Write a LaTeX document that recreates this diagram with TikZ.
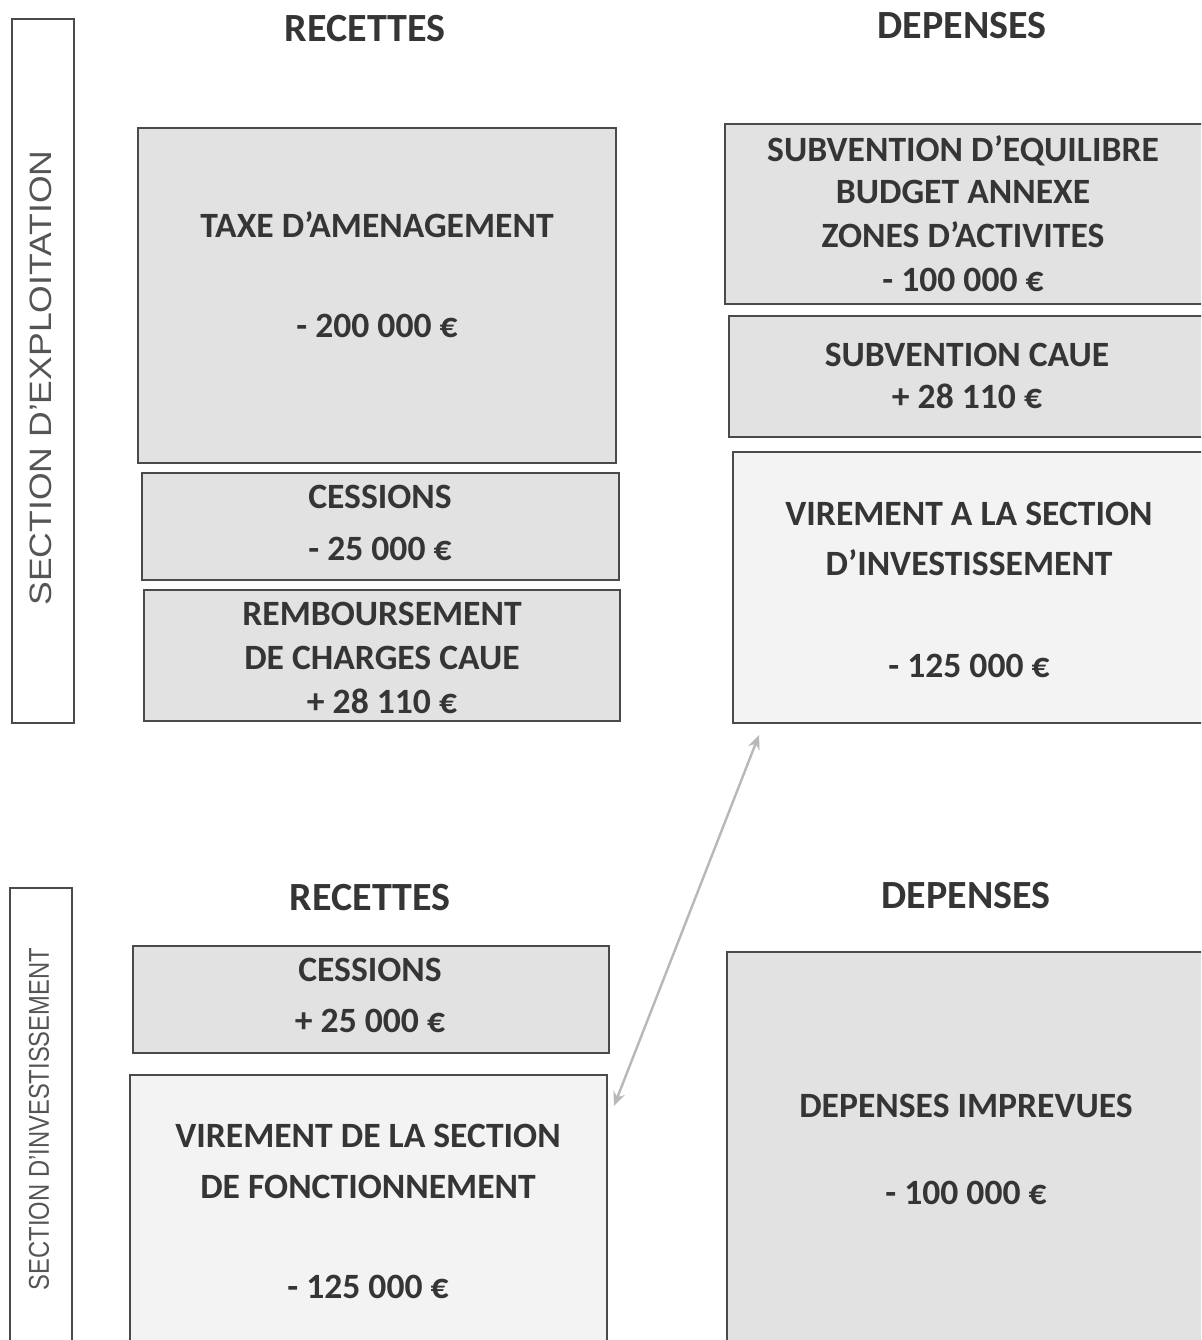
\documentclass[tikz,border=0pt]{standalone}
\usepackage{fontspec}
\setmainfont{Carlito}
\setsansfont{Liberation Sans}
\usetikzlibrary{fit,arrows.meta}
\definecolor{txtc}{HTML}{353535}
\definecolor{darkfill}{HTML}{E2E2E2}
\definecolor{lightfill}{HTML}{F3F3F3}
\definecolor{edgec}{HTML}{4A4A4A}
\definecolor{sidec}{HTML}{555555}
\tikzset{
  gbox/.style={draw=edgec, line width=1pt, fill=darkfill, inner sep=0pt},
  lbox/.style={draw=edgec, line width=1pt, fill=lightfill, inner sep=0pt},
  sidebox/.style={draw=edgec, line width=1pt, fill=white, inner sep=0pt},
  txt/.style={anchor=base, inner sep=0pt, text=txtc, font=\fontsize{17.8}{21}\selectfont\bfseries},
  head/.style={anchor=base, inner sep=0pt, text=txtc, font=\fontsize{20}{24}\selectfont\bfseries},
  sidetxt/.style={rotate=90, inner sep=0pt, text=sidec, font=\sffamily},
  link/.style={draw=black!28, line width=1.2pt, {Stealth[length=7pt,width=6pt]}-{Stealth[length=7pt,width=6pt]}},
}
\newcommand\tline[4]{\node[txt] (#1) at (#2,#3+11.5) {#4};}
\begin{document}
\begin{tikzpicture}[x=0.5pt,y=-0.5pt]
\clip (0,0) rectangle (1201,1340);
\fill[white] (0,0) rectangle (1201,1340);
% side boxes
\node[sidebox, fit={(12,19) (74,723)}] (sideA) {};
\node[sidetxt] (sideAt) at (41,378) {\resizebox{227.5pt}{10.8pt}{SECTION D'EXPLOITATION}};
\node[sidebox, fit={(10,888) (72,1360)}] (sideB) {};
\node[sidetxt] (sideBt) at (39,1119) {\resizebox{171pt}{10pt}{SECTION D'INVESTISSEMENT}};
% headers
\node[head] (h1) at (365,28+13) {RECETTES};
\node[head] (h2) at (962,25+13) {DEPENSES};
\node[head] (h3) at (370,897+13) {RECETTES};
\node[head] (h4) at (966,895+13) {DEPENSES};
% top left boxes
\node[gbox, fit={(138,128) (616,463)}] (taxe) {};
\tline{taxe1}{377}{226}{TAXE D’AMENAGEMENT}
\tline{taxe2}{377}{326}{- 200 000 €}
\node[gbox, fit={(142,473) (619,580)}] (cess) {};
\tline{cess1}{380}{497}{CESSIONS}
\tline{cess2}{380}{549}{- 25 000 €}
\node[gbox, fit={(144,590) (620,721)}] (remb) {};
\tline{remb1}{382}{614}{REMBOURSEMENT}
\tline{remb2}{382}{658}{DE CHARGES CAUE}
\tline{remb3}{382}{702}{+ 28 110 €}
% top right boxes
\node[gbox, fit={(725,124) (1220,304)}] (subeq) {};
\tline{subeq1}{963}{150}{SUBVENTION D’EQUILIBRE}
\tline{subeq2}{963}{192}{BUDGET ANNEXE}
\tline{subeq3}{963}{236}{ZONES D’ACTIVITES}
\tline{subeq4}{963}{280}{- 100 000 €}
\node[gbox, fit={(729,316) (1220,437)}] (subca) {};
\tline{subca1}{967}{355}{SUBVENTION CAUE}
\tline{subca2}{967}{397}{+ 28 110 €}
\node[lbox, fit={(733,452) (1220,723)}] (virA) {};
\tline{virA1}{969}{514}{VIREMENT A LA SECTION}
\tline{virA2}{969}{564}{D’INVESTISSEMENT}
\tline{virA3}{969}{666}{- 125 000 €}
% bottom left boxes
\node[gbox, fit={(133,946) (609,1053)}] (cessB) {};
\tline{cessB1}{370}{970}{CESSIONS}
\tline{cessB2}{370}{1021}{+ 25 000 €}
\node[lbox, fit={(130,1075) (607,1360)}] (virB) {};
\tline{virB1}{368}{1136}{VIREMENT DE LA SECTION}
\tline{virB2}{368}{1187}{DE FONCTIONNEMENT}
\tline{virB3}{368}{1287}{- 125 000 €}
% bottom right box
\node[gbox, fit={(727,952) (1220,1360)}] (imp) {};
\tline{imp1}{966}{1106}{DEPENSES IMPREVUES}
\tline{imp2}{966}{1193}{- 100 000 €}
% connector
\coordinate (arrA) at (759,735);
\coordinate (arrB) at (614,1106);
\draw[link] (arrB) -- (arrA);
\end{tikzpicture}
\end{document}
